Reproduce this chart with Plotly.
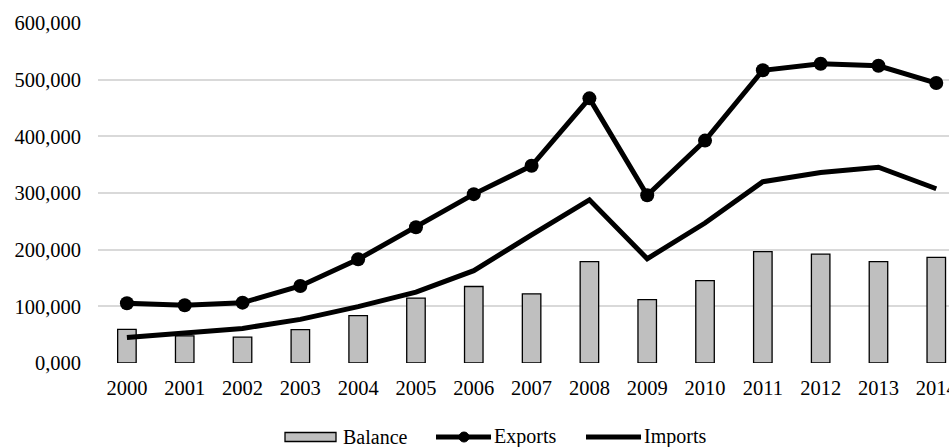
import plotly.graph_objects as go

years = [str(y) for y in range(2000, 2015)]
exports = [105500, 102000, 106500, 136000, 183000, 239500, 298000, 348000,
           467000, 296000, 392500, 516500, 528000, 524500, 494000]
imports = [45000, 54000, 61000, 77000, 99500, 125000, 163000, 226000,
           288000, 184000, 247000, 320000, 336000, 345500, 307500]
balance = [59500, 48000, 45500, 59000, 83500, 114500, 135000, 122000,
           179000, 112000, 145500, 196500, 192000, 179000, 186500]

y_ticks = [0, 100000, 200000, 300000, 400000, 500000, 600000]
y_tick_labels = ["0,000", "100,000", "200,000", "300,000", "400,000", "500,000", "600,000"]

FONT = "Liberation Serif, Times New Roman, serif"
W, H = 949, 447
ML, MR, MT, MB = 98, 0, 23, 84
PW, PH = W - ML - MR, H - MT - MB


def px(x):
    """Horizontal pixel position -> paper fraction."""
    return (x - ML) / PW


def py(y):
    """Vertical pixel position (from top) -> paper fraction."""
    return 1 - (y - MT) / PH


fig = go.Figure()
fig.add_trace(go.Bar(
    x=years, y=balance, name="Balance",
    marker=dict(color="#bfbfbf", line=dict(color="#000000", width=1.3)),
    width=0.32,
))
fig.add_trace(go.Scatter(
    x=years, y=exports, name="Exports", mode="lines+markers",
    line=dict(color="#000000", width=5),
    marker=dict(symbol="circle", size=14, color="#000000"),
))
fig.add_trace(go.Scatter(
    x=years, y=imports, name="Imports", mode="lines",
    line=dict(color="#000000", width=5),
))

# Legend row below the plot, Excel style (wide swatches)
LEG_Y = 437
shapes = [
    dict(type="rect", xref="paper", yref="paper",
         x0=px(285), x1=px(336), y0=py(432.5), y1=py(441.5),
         fillcolor="#bfbfbf", line=dict(color="#000000", width=1.3)),
    dict(type="line", xref="paper", yref="paper",
         x0=px(436), x1=px(491), y0=py(LEG_Y), y1=py(LEG_Y),
         line=dict(color="#000000", width=5)),
    dict(type="circle", xref="paper", yref="paper",
         x0=px(459), x1=px(469), y0=py(LEG_Y + 5), y1=py(LEG_Y - 5),
         fillcolor="#000000", line=dict(color="#000000", width=1)),
    dict(type="line", xref="paper", yref="paper",
         x0=px(586), x1=px(641), y0=py(LEG_Y), y1=py(LEG_Y),
         line=dict(color="#000000", width=5)),
]
legend_text = [("Balance", 341), ("Exports", 492), ("Imports", 642)]
annotations = [
    dict(text=t, xref="paper", yref="paper", x=px(x), y=py(LEG_Y),
         xanchor="left", yanchor="middle", showarrow=False,
         font=dict(family=FONT, size=20, color="#000000"))
    for t, x in legend_text
]

fig.update_layout(
    width=W, height=H,
    margin=dict(l=ML, r=MR, t=MT, b=MB, autoexpand=False),
    paper_bgcolor="#ffffff", plot_bgcolor="#ffffff",
    font=dict(family=FONT, size=20.5, color="#000000"),
    showlegend=False,
    shapes=shapes,
    annotations=annotations,
    xaxis=dict(
        type="category", range=[-0.5, 14.22],
        showgrid=False, showline=False, zeroline=False, ticks="",
        ticklabelstandoff=10,
        tickfont=dict(family=FONT, size=20.5),
    ),
    yaxis=dict(
        range=[0, 600000], tickvals=y_ticks, ticktext=y_tick_labels,
        showgrid=True, gridcolor="#d9d9d9", gridwidth=1.5,
        zeroline=False, showline=False, ticks="",
        ticklabelstandoff=16,
        tickfont=dict(family=FONT, size=20.5),
    ),
)

fig.write_html("out.html")
